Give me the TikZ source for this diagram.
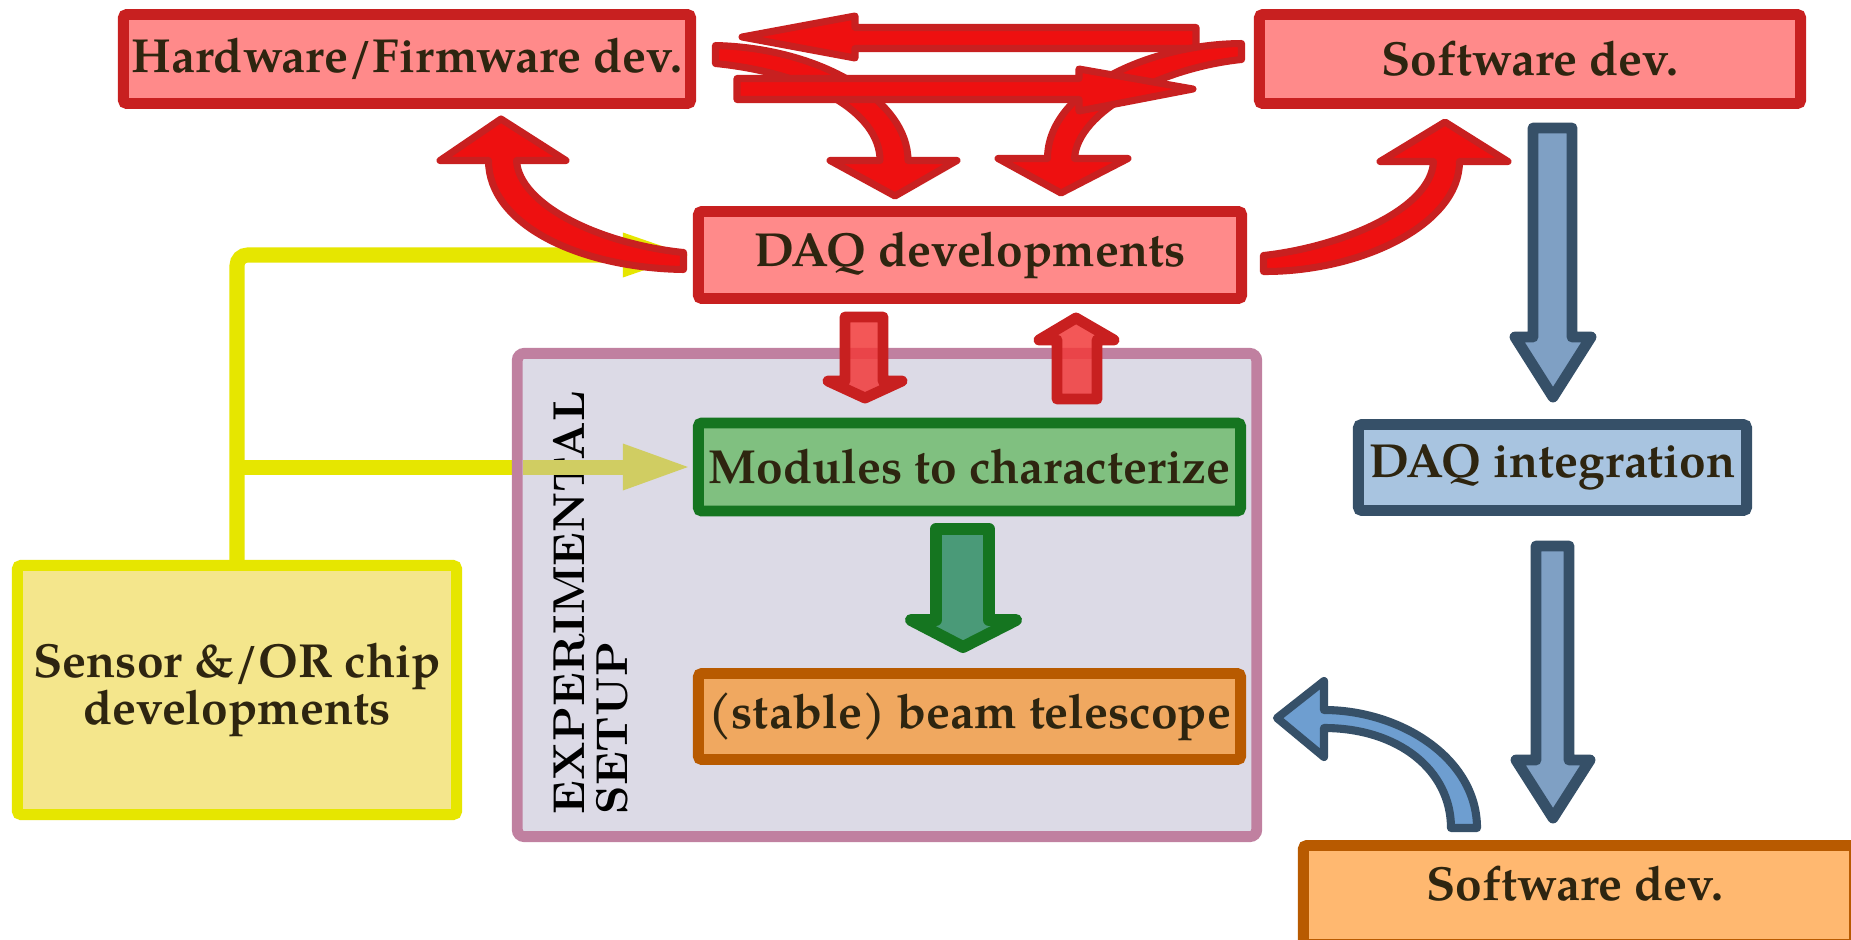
\documentclass[tikz,border=0pt]{standalone}
\usepackage{fontspec}
\usetikzlibrary{calc}
\newfontfamily\pala{texgyrepagella-bold.otf}
\newfontfamily\lmbx{lmroman10-bold.otf}
\definecolor{redline}{HTML}{C82020}
\definecolor{redfill}{HTML}{FF8A8A}
\definecolor{arrred}{HTML}{EE1010}
\definecolor{arrlight}{HTML}{F23A3A}
\definecolor{grnline}{HTML}{157520}
\definecolor{grnfill}{HTML}{80C080}
\definecolor{grnarr}{HTML}{4A9A78}
\definecolor{orline}{HTML}{B85A00}
\definecolor{orfill}{HTML}{F0A860}
\definecolor{orfilltwo}{HTML}{FFB870}
\definecolor{blline}{HTML}{365068}
\definecolor{blfill}{HTML}{A8C4E0}
\definecolor{blarr}{HTML}{7FA0C4}
\definecolor{blarrtwo}{HTML}{6E9ED0}
\definecolor{yel}{HTML}{E6E600}
\definecolor{yelfill}{HTML}{F4E68C}
\definecolor{olivetwo}{HTML}{D0CD62}
\definecolor{expline}{HTML}{C080A0}
\definecolor{expfill}{HTML}{DCDAE6}
\definecolor{txt}{HTML}{2E2510}
\begin{document}
\begin{tikzpicture}[x=0.01cm,y=-0.01cm,
  box/.style={draw, line width=3.1pt, rounded corners=1pt, inner sep=0pt, text=txt,
              font=\pala\fontsize{13.6}{16}\selectfont},
  redbox/.style={box, draw=redline, fill=redfill},
  bigarr/.style={draw=redline, fill=arrred, line width=2pt, line join=round},
  smallarr/.style={draw=redline, fill=arrlight, fill opacity=0.85, line width=3.1pt, line join=round},
  grnarrow/.style={draw=grnline, fill=grnarr, line width=3.4pt, line join=round},
  blarrow/.style={draw=blline, fill=blarr, line width=3.1pt, line join=round},
  blcurve/.style={draw=blline, fill=blarrtwo, line width=2.3pt, line join=round},
  yline/.style={draw=yel, line width=4.27pt, rounded corners=3pt},
]
\clip (0,0) rectangle (1851,939);
\fill[white] (0,0) rectangle (1851,939);

% boxes
\node[redbox, minimum width=5.67cm, minimum height=0.89cm] (hw) at (407,59) {Hardware/Firmware dev.};
\node[redbox, minimum width=5.41cm, minimum height=0.89cm] (swt) at (1530,59) {Software dev.};
\node[redbox, minimum width=5.43cm, minimum height=0.87cm] (daq) at (970,255) {DAQ developments};
\node[box, draw=yel, fill=yelfill, minimum width=4.39cm, minimum height=2.49cm, align=center,
      font=\pala\fontsize{13.6}{13.4}\selectfont] (sens) at (237,690) {Sensor \&/OR chip\\developments};

% yellow connectors (under the experimental box)
\draw[yline] (sens.north) |- ($(daq.west)+(-70,0)$);
\fill[yel] ($(daq.west)+(-5,0)$) -- ++(-65,-22.5) -- ++(0,45) -- cycle;
\coordinate (br) at (sens.north |- 0,467);
\draw[yel, line width=4.27pt] (br) -- (520,467);

\node[draw=expline, fill=expfill, line width=3.1pt, rounded corners=2pt, inner sep=0pt,
      minimum width=7.39cm, minimum height=4.83cm] (exp) at (887,595) {};
\node[box, draw=grnline, fill=grnfill, minimum width=5.42cm, minimum height=0.88cm] (mod) at (969.5,467) {Modules to characterize};
\node[box, draw=orline, fill=orfill, minimum width=5.42cm, minimum height=0.86cm] (tel) at (969.5,716.5) {(stable) beam telescope};
\node[box, draw=blline, fill=blfill, minimum width=3.88cm, minimum height=0.86cm] (dint) at (1552.5,467.5) {DAQ integration};
\node[box, draw=orline, fill=orfilltwo, minimum width=5.51cm, minimum height=0.99cm] (swb) at (1579,895) {};
\node[text=txt, font=\pala\fontsize{13.6}{16}\selectfont, inner sep=0pt] (swbt) at (1575,884) {Software dev.};

\node[rotate=90, anchor=north west, inner sep=0pt, align=left,
      font=\lmbx\fontsize{12.7}{12}\selectfont] (exptxt) at (553,815) {EXPERIMENTAL\\SETUP};

% olive part of the branch inside the experimental box
\draw[olivetwo, line width=4.27pt] (523,467) -- ($(mod.west)+(-70,0)$);
\fill[olivetwo] ($(mod.west)+(-5,0)$) -- ++(-65,-23.5) -- ++(0,47) -- cycle;

% top red arrows
\draw[bigarr] (1196,27.5) -- (855,27.5) -- (855,16) -- (742,37) -- (855,58) -- (855,48.5) -- (1196,48.5) -- cycle;
\draw[bigarr] (715.5,45.5) .. controls (820,48) and (908,100) .. (908,160.5) -- (957,160.5) -- (895,196)
   -- (830,160.5) -- (880,160.5) .. controls (880,112) and (810,73) .. (715.5,63.5) -- cycle;
\draw[bigarr] (1241.5,43.5) .. controls (1150,44) and (1047.5,90) .. (1047.5,158.5) -- (998,158.5) -- (1061,193)
   -- (1128,158.5) -- (1074.5,158.5) .. controls (1077,112) and (1160,68) .. (1241.5,59.5) -- cycle;
\draw[bigarr] (737,78.5) -- (1079,78.5) -- (1079,69) -- (1193,89) -- (1079,111) -- (1079,99.5) -- (737,99.5) -- cycle;

% side curved red arrows
\draw[bigarr] (683.5,252.5) -- (683.5,269.5) .. controls (580,268) and (488.5,225) .. (488.5,160.5)
   -- (440,160.5) -- (501,119) -- (566,160.5) -- (516.5,160.5) .. controls (519,205) and (600,244) .. (683.5,252.5) -- cycle;
\draw[bigarr] (1263.5,255.5) -- (1263.5,271.5) .. controls (1360,272) and (1459.5,225) .. (1459.5,161.5)
   -- (1508,161.5) -- (1445,122) -- (1380,161.5) -- (1433.5,161.5) .. controls (1431,210) and (1340,247) .. (1263.5,255.5) -- cycle;

% DAQ <-> modules
\draw[smallarr] (845,317) -- (883,317) -- (883,381) -- (902,381) -- (865,398) -- (828,381) -- (845,381) -- cycle;
\draw[smallarr] (1057,399) -- (1097,399) -- (1097,340) -- (1114,340) -- (1076,318) -- (1039,340) -- (1057,340) -- cycle;

% green arrow
\draw[grnarrow] (936,529) -- (989,529) -- (989,620) -- (1016,620) -- (963,647) -- (911,620) -- (936,620) -- cycle;

% blue arrows
\draw[blarrow] (1533,128) -- (1572,128) -- (1572,337) -- (1591,337) -- (1553,397) -- (1515,337) -- (1533,337) -- cycle;
\draw[blarrow] (1536,546) -- (1569,546) -- (1569,760) -- (1590,760) -- (1553,818) -- (1516,760) -- (1536,760) -- cycle;
\draw[blcurve] (1451,828) -- (1477,828) .. controls (1477,758) and (1400,710) .. (1324,710) -- (1324,681) -- (1277,718)
   -- (1324,757) -- (1324,728) .. controls (1398,728) and (1451,770) .. (1451,828) -- cycle;
\end{tikzpicture}
\end{document}
